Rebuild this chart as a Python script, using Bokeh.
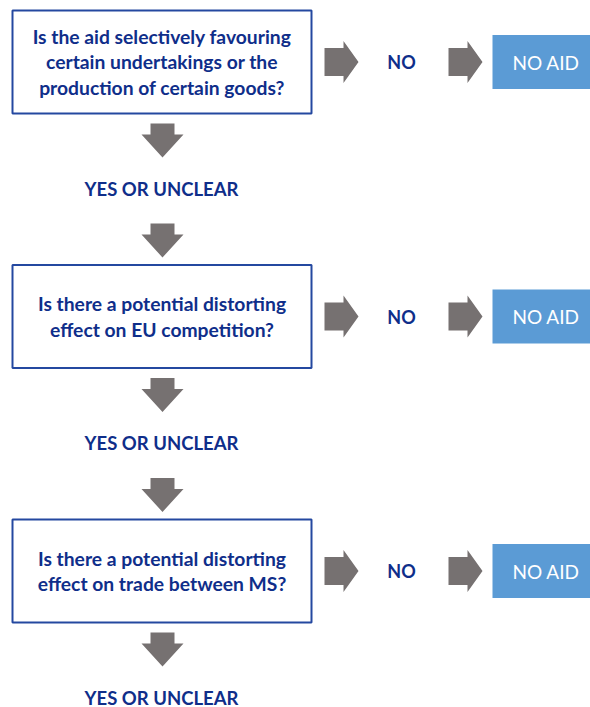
from bokeh.plotting import figure
from bokeh.models import Range1d
from bokeh.core.properties import value
from bokeh.embed import file_html
from bokeh.resources import INLINE

# ---- content ----
questions = [
    "Is the aid selectively favouring\ncertain undertakings or the\nproduction of certain goods?",
    "Is there a potential distorting\neffect on EU competition?",
    "Is there a potential distorting\neffect on trade between MS?",
]
no_labels = ["NO", "NO", "NO"]
outcome_labels = ["NO AID", "NO AID", "NO AID"]
continue_labels = ["YES OR UNCLEAR", "YES OR UNCLEAR", "YES OR UNCLEAR"]

# ---- layout (pixel coordinates of the page) ----
W, H = 590, 707
row_cy = [61.5, 316.0, 570.5]
box_x0, box_x1, box_h = 12, 311, 103
col_x = 162
navy = "#0f2e8a"
border = "#2448a0"
gray = "#767171"
light = "#5b9bd5"
font = "Lato"

p = figure(width=W, height=H, output_backend="svg", toolbar_location=None,
           x_range=Range1d(0, W), y_range=Range1d(H, 0),
           min_border=0)
p.axis.visible = False
p.grid.visible = False
p.outline_line_color = None
p.background_fill_color = "white"

def down_arrow(top):
    xs = [col_x - 12, col_x + 12, col_x + 12, col_x + 21, col_x, col_x - 21, col_x - 12]
    ys = [top, top, top + 11, top + 11, top + 34, top + 11, top + 11]
    return xs, ys

def right_arrow(x0, cy):
    xs = [x0, x0 + 19, x0 + 19, x0 + 34, x0 + 19, x0 + 19, x0]
    ys = [cy - 14, cy - 14, cy - 21, cy, cy + 21, cy + 14, cy + 14]
    return xs, ys

ax, ay = [], []
for i, cy in enumerate(row_cy):
    for top in (cy + 61.5, cy + 161.5):
        if i == 2 and top > cy + 100:
            continue
        xs, ys = down_arrow(top)
        ax.append(xs); ay.append(ys)
    for x0 in (324, 448):
        xs, ys = right_arrow(x0, cy)
        ax.append(xs); ay.append(ys)
p.patches(ax, ay, fill_color=gray, line_color=None)

# question boxes
p.quad(left=[box_x0] * 3, right=[box_x1] * 3,
       top=[c - box_h / 2 for c in row_cy], bottom=[c + box_h / 2 for c in row_cy],
       fill_color="white", line_color=border, line_width=2)
p.text(x=[(box_x0 + box_x1) / 2] * 3, y=row_cy, text=questions,
       text_font=value(font), text_font_style="bold", text_font_size="19.3px",
       text_color=navy, text_align="center", text_baseline="middle",
       text_line_height=1.1)

# NO labels
p.text(x=[401] * 3, y=row_cy, text=no_labels,
       text_font=value(font), text_font_style="bold", text_font_size="18px",
       text_color=navy, text_align="center", text_baseline="middle")

# outcome boxes
p.quad(left=[492] * 3, right=[592] * 3,
       top=[c - 27 for c in row_cy], bottom=[c + 27 for c in row_cy],
       fill_color=light, line_color=None)
p.text(x=[545.5] * 3, y=row_cy, text=outcome_labels,
       text_font=value(font), text_font_size="19px",
       text_color="white", text_align="center", text_baseline="middle")

# YES OR UNCLEAR
p.text(x=[col_x - 1] * 3, y=[c + 126.5 for c in row_cy], text=continue_labels,
       text_font=value(font), text_font_style="bold", text_font_size="18.5px",
       text_color=navy, text_align="center", text_baseline="middle")

open("out.html", "w").write(file_html(p, INLINE))
